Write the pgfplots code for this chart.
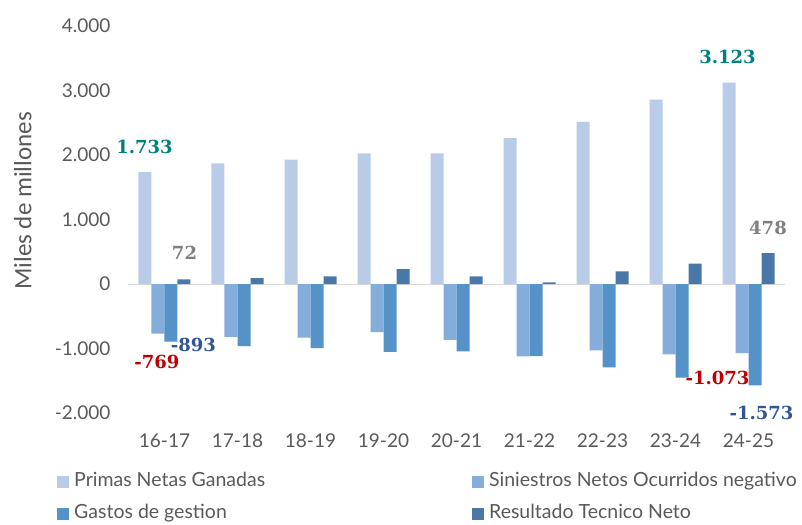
\documentclass[border=0pt]{standalone}
\usepackage{pgfplots}
\pgfplotsset{compat=1.18}
\usepackage{fontspec}
\setmainfont{Lato}
\newfontfamily\labfont{Carlito}
\newfontfamily\numfont{DejaVu Serif}
\definecolor{cPrim}{HTML}{B8CCE8}
\definecolor{cSin}{HTML}{84ADDB}
\definecolor{cGas}{HTML}{5592C8}
\definecolor{cRes}{HTML}{4978A8}
\definecolor{txt}{HTML}{595959}
\definecolor{lTeal}{HTML}{00807F}
\definecolor{lGray}{HTML}{7F7F7F}
\definecolor{lRed}{HTML}{C00000}
\definecolor{lBlue}{HTML}{2F5597}
\begin{document}
\begin{tikzpicture}
\useasboundingbox (-128pt,-111pt) rectangle (674pt,413pt);
\begin{axis}[
  scale only axis, width=657pt, height=387pt,
  at={(0pt,0pt)}, anchor=south west,
  xmin=-0.5, xmax=8.5, ymin=-2000, ymax=4000,
  ybar=0pt, bar width=13pt,
  axis line style={draw=none},
  major tick length=0pt,
  xtick={0,1,2,3,4,5,6,7,8},
  xticklabels={16-17,17-18,18-19,19-20,20-21,21-22,22-23,23-24,24-25},
  ytick={-2000,-1000,0,1000,2000,3000,4000},
  /pgf/number format/assume math mode=true,
  /pgf/number format/.cd, 1000 sep={.}, /pgfplots/.cd,
  scaled y ticks=false,
  tick label style={font=\fontsize{19}{21}\selectfont, text=txt},
  xticklabel style={yshift=-17pt},
  yticklabel style={xshift=-14pt},
  ylabel={Miles de millones},
  ylabel style={font=\labfont\fontsize{25}{28}\selectfont, text=txt, at={(axis description cs:-0.16,0.548)}, anchor=center},
  extra y ticks={0}, extra y tick labels={},
  extra y tick style={grid=major, major grid style={draw=black!15, line width=1pt}},
  clip=false,
  legend columns=2,
  legend cell align=left,
  legend image code/.code={\fill[#1] (0pt,-6pt) rectangle (12pt,6pt);},
  legend style={draw=none, fill=none, inner sep=0pt,
    at={(axis description cs:-0.108,-0.157)}, anchor=north west,
    font=\fontsize{19.5}{21}\selectfont, text=txt,
    nodes={inner sep=0pt, text height=13pt, text depth=4pt},
    row sep=15pt,
    /tikz/every odd column/.append style={column sep=5pt},
    /tikz/every even column/.append style={column sep=207pt}},
]
\addplot[fill=cPrim, draw=none] coordinates {(0,1733) (1,1870) (2,1927) (3,2025) (4,2025) (5,2262) (6,2515) (7,2860) (8,3123)};
\addplot[fill=cSin, draw=none] coordinates {(0,-769) (1,-819) (2,-830) (3,-747) (4,-866) (5,-1123) (6,-1030) (7,-1090) (8,-1073)};
\addplot[fill=cGas, draw=none] coordinates {(0,-893) (1,-963) (2,-994) (3,-1051) (4,-1046) (5,-1118) (6,-1293) (7,-1453) (8,-1573)};
\addplot[fill=cRes, draw=none] coordinates {(0,72) (1,93) (2,119) (3,232) (4,119) (5,26) (6,196) (7,314) (8,478)};
\legend{Primas Netas Ganadas, Siniestros Netos Ocurridos negativo, Gastos de gestion, Resultado Tecnico Neto}
\begin{scope}[every node/.style={font=\numfont\bfseries\fontsize{18}{20}\selectfont, inner sep=0pt}]
\node[text=lTeal] at (axis cs:-0.274,2124) {1.733};
\node[text=lGray] at (axis cs:0.274,481) {72};
\node[text=lRed] at (axis cs:-0.103,-1209) {-769};
\node[text=lBlue] at (axis cs:0.397,-946) {-893};
\node[text=lTeal] at (axis cs:7.712,3519) {3.123};
\node[text=lGray] at (axis cs:8.267,868) {478};
\node[text=lRed] at (axis cs:7.575,-1457) {-1.073};
\node[text=lBlue] at (axis cs:8.178,-2000) {-1.573};
\end{scope}
\end{axis}
\end{tikzpicture}
\end{document}
